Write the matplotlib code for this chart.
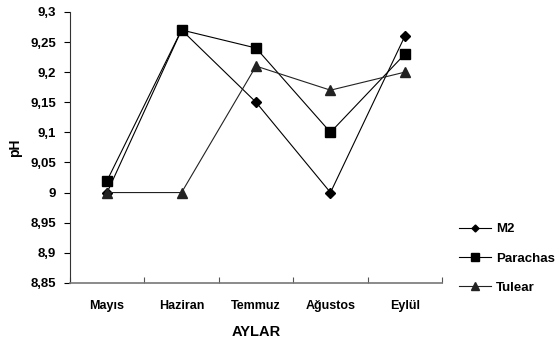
import matplotlib.pyplot as plt
from matplotlib.ticker import FuncFormatter, MultipleLocator

months = ['Mayıs', 'Haziran', 'Temmuz', 'Ağustos', 'Eylül']
m2 = [9.00, 9.27, 9.15, 9.00, 9.26]
parachas = [9.02, 9.27, 9.24, 9.10, 9.23]
tulear = [9.00, 9.00, 9.21, 9.17, 9.20]

plt.rcParams['font.family'] = ['Liberation Sans', 'DejaVu Sans']
plt.rcParams['font.weight'] = 'bold'

fig = plt.figure(figsize=(5.59, 3.4), dpi=100)
ax = fig.add_axes([0.125, 0.168, 0.666, 0.797])

x = range(len(months))
ax.plot(x, m2, color='black', lw=0.8, marker='D', ms=4.7, label='M2', zorder=2)
ax.plot(x, parachas, color='black', lw=0.8, marker='s', ms=7, label='Parachas', zorder=3)
ax.plot(x, tulear, color='#222222', lw=0.8, marker='^', ms=7.2, label='Tulear', zorder=4)

ax.set_xlim(-0.5, len(months) - 0.5)
ax.set_ylim(8.85, 9.3)
ax.yaxis.set_major_locator(MultipleLocator(0.05))
ax.yaxis.set_major_formatter(FuncFormatter(lambda v, p: f'{round(v, 2):g}'.replace('.', ',')))

# category boundaries carry the ticks, names sit between them
ax.set_xticks([i - 0.5 for i in range(len(months) + 1)])
ax.set_xticklabels([])
ax.set_xticks(list(x), minor=True)
ax.set_xticklabels(months, minor=True)
ax.tick_params(axis='x', which='major', direction='in', length=4, color='#555555')
ax.tick_params(axis='x', which='minor', length=0, pad=12, labelsize=9)
ax.tick_params(axis='y', direction='out', length=4, pad=6, labelsize=9.5)

ax.spines['top'].set_visible(False)
ax.spines['right'].set_visible(False)
ax.spines['bottom'].set_color('#777777')
ax.spines['bottom'].set_linewidth(1.2)
ax.spines['left'].set_color('#333333')

ax.set_ylabel('pH', fontsize=10, fontweight='bold', labelpad=6)
ax.set_xlabel('AYLAR', fontsize=10.5, fontweight='bold', labelpad=10)

fig.legend(loc='center left', bbox_to_anchor=(0.8, 0.24), frameon=False,
           fontsize=9.5, handlelength=2.4, labelspacing=1.3, handletextpad=0.4,
           markerscale=0.75)

fig.savefig('out.png', dpi=100)
